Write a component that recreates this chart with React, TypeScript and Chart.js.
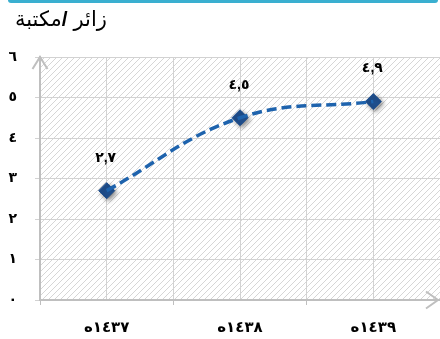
import React, { useEffect, useRef } from 'react';
import { Chart, registerables } from 'chart.js';

Chart.register(...registerables);

const categories = ['١٤٣٧ه', '١٤٣٨ه', '١٤٣٩ه'];
const values = [2.7, 4.5, 4.9];
const valueLabels = ['٢,٧', '٤,٥', '٤,٩'];
const yTickLabels = ['٠', '١', '٢', '٣', '٤', '٥', '٦'];

const FONT = 'Arial, "Liberation Sans", "DejaVu Sans", sans-serif';
const AXIS_GRAY = '#bfbfbf';
const GRID_GRAY = '#d2d2d2';

function makeHatch(): CanvasPattern | string {
  const c = document.createElement('canvas');
  c.width = 6;
  c.height = 6;
  const g = c.getContext('2d');
  if (!g) return '#fff';
  g.fillStyle = '#ffffff';
  g.fillRect(0, 0, 6, 6);
  g.strokeStyle = '#d6d6d6';
  g.lineWidth = 1;
  g.beginPath();
  g.moveTo(-1, 7);
  g.lineTo(7, -1);
  g.moveTo(-1, 1);
  g.lineTo(1, -1);
  g.moveTo(5, 7);
  g.lineTo(7, 5);
  g.stroke();
  const p = g.createPattern(c, 'repeat');
  return p || '#fff';
}

const hatchPlugin = {
  id: 'hatchBg',
  beforeDraw(chart: any) {
    const { ctx, chartArea } = chart;
    if (!chartArea) return;
    ctx.save();
    ctx.fillStyle = makeHatch();
    ctx.fillRect(chartArea.left, chartArea.top, chartArea.right - chartArea.left, chartArea.bottom - chartArea.top);
    ctx.restore();
  },
};

const shadowPlugin = {
  id: 'markerShadow',
  beforeDatasetDraw(chart: any, args: any) {
    if (args.index !== 1) return;
    const ctx = chart.ctx;
    ctx.save();
    ctx.shadowColor = 'rgba(0,0,0,0.45)';
    ctx.shadowBlur = 4;
    ctx.shadowOffsetX = 2;
    ctx.shadowOffsetY = 2;
  },
  afterDatasetDraw(chart: any, args: any) {
    if (args.index !== 1) return;
    chart.ctx.restore();
  },
};

const arrowsAndLabels = {
  id: 'arrowsLabels',
  afterDraw(chart: any) {
    const { ctx, chartArea } = chart;
    const { left, top, right, bottom } = chartArea;
    ctx.save();
    ctx.strokeStyle = AXIS_GRAY;
    ctx.lineWidth = 2;
    ctx.lineCap = 'butt';
    ctx.lineJoin = 'miter';
    // y arrow
    ctx.beginPath();
    ctx.moveTo(left - 7.5, top + 12);
    ctx.lineTo(left, top);
    ctx.lineTo(left + 7.5, top + 12);
    ctx.stroke();
    // x arrow
    ctx.beginPath();
    ctx.moveTo(right - 14, bottom - 8.5);
    ctx.lineTo(right - 2, bottom);
    ctx.lineTo(right - 14, bottom + 8.5);
    ctx.stroke();

    // value labels
    const meta = chart.getDatasetMeta(1);
    ctx.fillStyle = '#000';
    ctx.font = `bold 14px ${FONT}`;
    ctx.textAlign = 'center';
    ctx.textBaseline = 'middle';
    meta.data.forEach((pt: any, i: number) => {
      ctx.fillText(valueLabels[i], pt.x - 1, pt.y - 33);
    });
    ctx.restore();
  },
};

export default function App() {
  const ref = useRef<HTMLCanvasElement | null>(null);

  useEffect(() => {
    document.body.style.margin = '0';
    const canvas = ref.current;
    if (!canvas) return;
    const points = values.map((v, i) => ({ x: i, y: v }));
    const chart = new Chart(canvas, {
      type: 'line',
      data: {
        datasets: [
          {
            data: points,
            borderColor: '#1e63ad',
            borderWidth: 3.5,
            borderDash: [10, 5],
            tension: 0.4,
            pointRadius: 0,
            fill: false,
          },
          {
            data: points,
            showLine: false,
            pointStyle: 'rectRot',
            pointRadius: 8,
            pointBackgroundColor: '#1f4f8e',
            pointBorderColor: '#1f4f8e',
            pointBorderWidth: 1,
          },
        ],
      },
      options: {
        responsive: false,
        animation: false,
        devicePixelRatio: 1,
        layout: { autoPadding: false, padding: { top: 57, left: 0, right: 0, bottom: 0 } },
        plugins: {
          legend: { display: false },
          tooltip: { enabled: false },
          title: { display: false },
        },
        scales: {
          x: {
            type: 'linear',
            min: -0.5,
            max: 2.5,
            afterFit: (s: any) => {
              s.height = 39;
              s.paddingLeft = 0;
              s.paddingRight = 0;
            },
            ticks: {
              stepSize: 0.5,
              autoSkip: false,
              maxRotation: 0,
              padding: 14,
              color: '#000',
              font: { family: FONT, size: 15, weight: 'bold' },
              callback: (v: any) => (Number.isInteger(v) ? categories[v] : ''),
            },
            grid: {
              color: GRID_GRAY,
              lineWidth: 1,
              tickLength: 5,
              tickColor: (c: any) =>
                c.tick && Number.isInteger(c.tick.value) ? 'rgba(0,0,0,0)' : AXIS_GRAY,
            },
            border: { color: AXIS_GRAY, width: 2 },
          },
          y: {
            min: 0,
            max: 6,
            afterFit: (s: any) => {
              s.width = 40;
            },
            ticks: {
              stepSize: 1,
              padding: 18,
              color: '#000',
              font: { family: FONT, size: 14, weight: 'bold' },
              callback: (v: any) => yTickLabels[v] ?? '',
            },
            grid: {
              color: GRID_GRAY,
              lineWidth: 1,
              tickLength: 5,
              tickColor: GRID_GRAY,
            },
            border: { color: AXIS_GRAY, width: 2 },
          },
        },
      },
      plugins: [hatchPlugin, shadowPlugin, arrowsAndLabels],
    } as any);
    return () => chart.destroy();
  }, []);

  return (
    <div style={{ position: 'relative', width: 440, height: 339, overflow: 'hidden', background: '#fff' }}>
      <div
        style={{
          position: 'absolute',
          left: 8,
          top: 0,
          width: 430,
          height: 3,
          background: '#3aafd0',
          borderRadius: '0 0 3px 3px',
        }}
      />
      <div
        dir="rtl"
        style={{
          position: 'absolute',
          left: 15,
          top: 5,
          fontFamily: FONT,
          fontSize: 21,
          color: '#000',
          whiteSpace: 'nowrap',
          lineHeight: '28px',
        }}
      >
        <span>زائر </span>
        <b>/</b>
        <span>مكتبة</span>
      </div>
      <canvas ref={ref} width={440} height={339} style={{ display: 'block' }} />
    </div>
  );
}
